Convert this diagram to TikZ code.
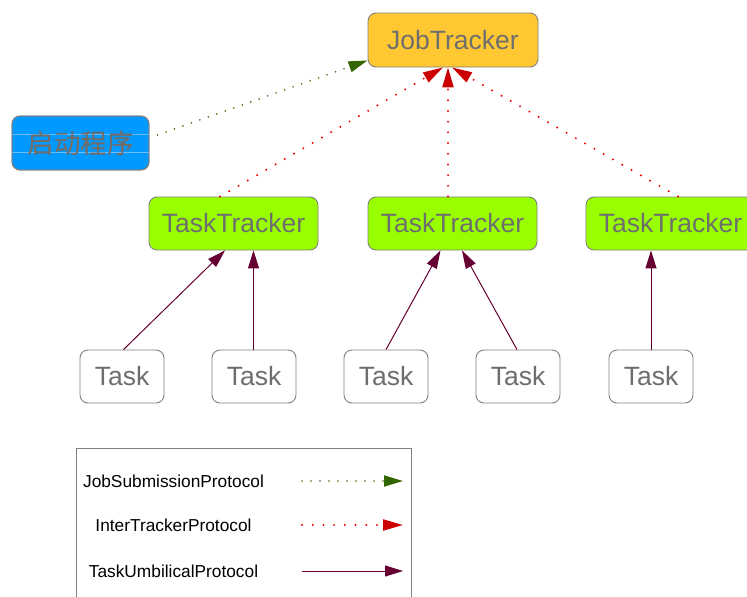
\documentclass[tikz,border=0pt]{standalone}
\usepackage{fontspec}
\setmainfont{Liberation Sans}
\newfontfamily\cjkfont{Noto Sans CJK SC}
\usetikzlibrary{arrows.meta,calc}

\definecolor{jtfill}{RGB}{255,200,50}
\definecolor{bootfill}{RGB}{0,153,255}
\definecolor{bootline}{RGB}{110,190,255}
\definecolor{ttfill}{RGB}{153,255,0}
\definecolor{boxline}{RGB}{128,128,128}
\definecolor{boxtext}{RGB}{110,110,110}
\definecolor{jsgreen}{RGB}{51,102,0}
\definecolor{jsdot}{RGB}{60,110,10}
\definecolor{itred}{RGB}{204,0,0}
\definecolor{itdot}{RGB}{240,0,0}
\definecolor{tupurple}{RGB}{102,0,51}

\tikzset{
  box/.style={draw=boxline, line width=0.9pt, rounded corners=8pt,
    text=boxtext, font=\fontsize{26.5}{30}\selectfont, inner sep=0pt},
  jtbox/.style={box, fill=jtfill, minimum width=170pt, minimum height=54pt},
  bootbox/.style={box, fill=bootfill, minimum width=137pt, minimum height=54pt},
  ttbox/.style={box, fill=ttfill, minimum width=169pt, minimum height=53pt},
  taskbox/.style={box, fill=white, minimum width=84pt, minimum height=53pt},
  legtext/.style={font=\fontsize{17.3}{20}\selectfont, text=black, inner sep=0pt},
  jsarrow/.style={draw=jsdot, line width=1.8pt, line cap=round,
    dash pattern=on 0pt off 9pt,
    -{Triangle[length=19pt,width=11pt,fill=jsgreen,color=jsgreen]}},
  itarrow/.style={draw=itdot, line width=2.2pt, line cap=round,
    dash pattern=on 0pt off 10.7pt,
    -{Triangle[length=20pt,width=11pt,fill=itred,color=itred]}},
  tuarrow/.style={draw=tupurple, line width=1pt,
    -{Triangle[length=18pt,width=11pt,fill=tupurple,color=tupurple]}},
}

\begin{document}
\begin{tikzpicture}[x=1pt,y=-1pt]
\useasboundingbox (0,0) rectangle (747,597);
\clip (0,0) rectangle (747,597);

% trackers and launcher
\node[jtbox] (jt) at (453,40) {JobTracker};
\node[bootbox] (boot) at (80.5,143) {\cjkfont 启动程序};
\begin{scope}
  \clip[rounded corners=8pt] (boot.south west) rectangle (boot.north east);
  \draw[bootline, line width=0.8pt] ($(boot.west)+(0,-9)$) -- ($(boot.east)+(0,-9)$);
  \draw[bootline, line width=0.8pt] ($(boot.west)+(0,9.5)$) -- ($(boot.east)+(0,9.5)$);
\end{scope}
\node[bootbox, fill=none] at (boot) {\cjkfont 启动程序};

\node[ttbox] (tt1) at (233.5,223.5) {TaskTracker};
\node[ttbox] (tt2) at (452.5,223.5) {TaskTracker};
\node[ttbox] (tt3) at (670.5,223.5) {TaskTracker};

% tasks
\node[taskbox] (t1) at (122,376.5) {Task};
\node[taskbox] (t2) at (254,376.5) {Task};
\node[taskbox] (t3) at (386,376.5) {Task};
\node[taskbox] (t4) at (518,376.5) {Task};
\node[taskbox] (t5) at (651,376.5) {Task};

% job submission
\draw[jsarrow] ($(boot.east)+(8,-8)$) -- ($(jt.south west)+(0,-7)$);

% inter-tracker heartbeats
\draw[itarrow] ($(tt1.north)+(-13.5,0)$) -- ($(jt.south)+(-10,0)$);
\draw[itarrow] ($(tt2.north)+(-4.5,0)$) -- ($(jt.south)+(-5,0)$);
\draw[itarrow] ($(tt3.north)+(7.5,0)$) -- ($(jt.south)+(-1,0)$);

% task umbilical
\draw[tuarrow] ($(t1.north)+(1.5,0)$) -- ($(tt1.south)+(-8.5,0)$);
\draw[tuarrow] ($(t2.north)+(-0.5,0)$) -- ($(tt1.south)+(20,0)$);
\draw[tuarrow] (t3.north) -- ($(tt2.south)+(-12,0)$);
\draw[tuarrow] ($(t4.north)+(-1,0)$) -- ($(tt2.south)+(9.5,0)$);
\draw[tuarrow] (t5.north) -- ($(tt3.south)+(-19.5,0)$);

% legend
\node[draw=boxline, line width=0.9pt, minimum width=335pt, minimum height=180pt,
  inner sep=0pt, anchor=north west] (legend) at (76,448) {};
\node[legtext] (l1) at (173.5,481) {JobSubmissionProtocol};
\node[legtext] (l2) at (173.5,525) {InterTrackerProtocol};
\node[legtext] (l3) at (173.5,571) {TaskUmbilicalProtocol};
\coordinate (l1a) at (302,481); \coordinate (l1b) at (403,481);
\coordinate (l2a) at (302,525); \coordinate (l2b) at (403,525);
\coordinate (l3a) at (302,571); \coordinate (l3b) at (403,571);
\draw[jsarrow] (l1a) -- (l1b);
\draw[itarrow] (l2a) -- (l2b);
\draw[tuarrow] (l3a) -- (l3b);
\end{tikzpicture}
\end{document}
